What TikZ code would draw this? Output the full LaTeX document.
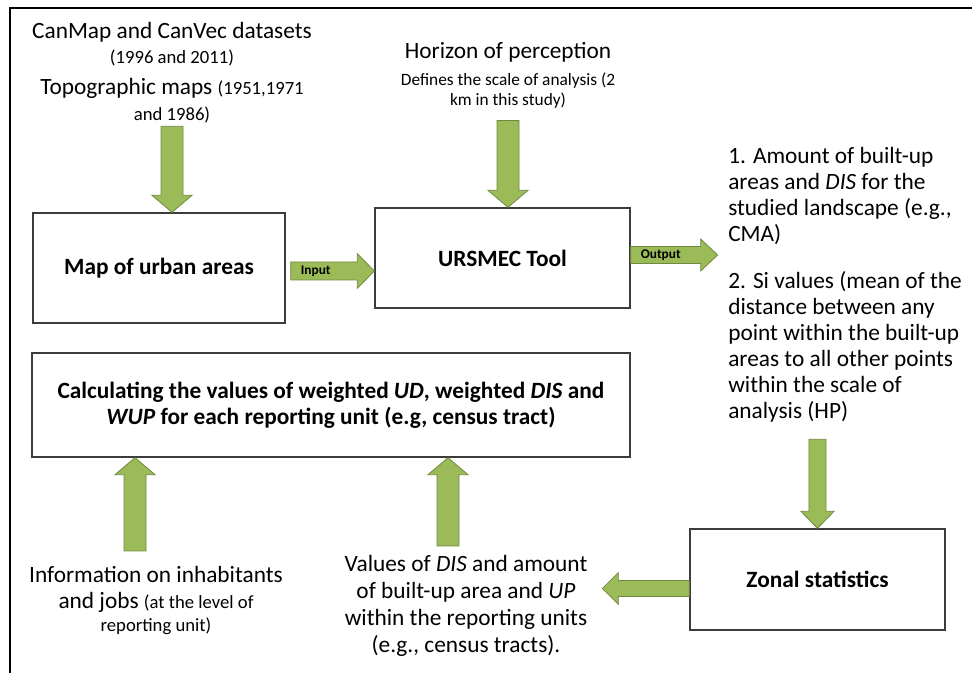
\documentclass[tikz,border=0pt]{standalone}
\usepackage{fontspec}
\setmainfont{Carlito}
\usetikzlibrary{calc,positioning}
\definecolor{ccvert}{RGB}{155,187,89}
\definecolor{ccvertfonce}{RGB}{113,137,63}
\definecolor{ccgris}{RGB}{60,60,60}

\newcommand{\grand}{\fontsize{17.5}{19.5}\selectfont}
\newcommand{\moyen}{\fontsize{13}{15}\selectfont}
\newcommand{\petit}{\fontsize{14}{16}\selectfont}

% fleche pleine : depart, arrivee, demi-corps, demi-tete, longueur tete
\newcommand{\flechebloc}[5]{%
  \coordinate (fb) at ($(#2)!#5!(#1)$);
  \filldraw[fleche] ($(#1)!#3!90:(#2)$) -- ($(fb)!#3!90:(#2)$) -- ($(fb)!#4!90:(#2)$)
    -- (#2) -- ($(fb)!#4!-90:(#2)$) -- ($(fb)!#3!-90:(#2)$) -- ($(#1)!#3!-90:(#2)$) -- cycle;}

\begin{document}
\begin{tikzpicture}[x=0.75pt, y=-0.75pt]

  % Styles
  \tikzstyle{boite} = [draw=ccgris, line width=1pt, fill=white, align=center, font=\grand\bfseries]
  \tikzstyle{texte} = [align=center, inner sep=0pt, font=\grand]
  \tikzstyle{fleche} = [fill=ccvert, draw=ccvertfonce, line width=0.6pt, line join=miter]
  \tikzstyle{etiq} = [inner sep=0pt, font=\fontsize{10}{12}\selectfont\bfseries]

  % Cadre
  \useasboundingbox (0,0) rectangle (972,673);
  \draw[line width=1.5pt] (10,673) -- (10,8) -- (972,8);

  % Boites
  \draw (159,268) node[boite, minimum width=189pt, minimum height=82.5pt] (map) {Map of urban areas};
  \draw (502.5,258) node[boite, minimum width=191.25pt, minimum height=75pt] (tool) {URSMEC Tool};
  \draw (331,405) node[boite, minimum width=448.5pt, minimum height=78pt] (calc) {Calculating the values of weighted \textit{UD}, weighted \textit{DIS} and\\ \textit{WUP} for each reporting unit (e.g, census tract)};
  \draw (817.5,579.5) node[boite, minimum width=191.25pt, minimum height=75.75pt] (zonal) {Zonal statistics};

  % Textes
  \draw (172,22) node[texte, anchor=north] (donnees) {CanMap and CanVec datasets\\[-0.75pt] {\petit (1996 and 2011)}\\[3.75pt] Topographic maps {\petit (1951,1971}\\ {\petit and 1986)}};
  \draw (508,42) node[texte, anchor=north] (horizon) {Horizon of perception\\[0.75pt] {\moyen Defines the scale of analysis (2}\\[-4.5pt] {\moyen km in this study)}};
  \draw (728,147) node[texte, anchor=north west, align=left] (resultats) {1. Amount of built-up\\ areas and \textit{DIS} for the\\ studied landscape (e.g.,\\ CMA)\\[15.75pt] 2. Si values (mean of the\\ distance between any\\ point within the built-up\\ areas to all other points\\ within the scale of\\ analysis (HP)};
  \draw (156,566) node[texte, anchor=north] (info) {Information on inhabitants\\ and jobs {\petit (at the level of}\\[-2pt] {\petit reporting unit)}};
  \draw (466,555) node[texte, anchor=north] (valeurs) {Values of \textit{DIS} and amount\\[0.75pt] of built-up area and \textit{UP}\\[0.75pt] within the reporting units\\[0.75pt] (e.g., census tracts).};

  % Points d'ancrage des fleches
  \coordinate (d1) at ($(donnees.south)+(0,3)$);
  \coordinate (h1) at ($(horizon.south)+(0,12)$);
  \coordinate (in0) at ($(map.east)+(5,3)$);
  \coordinate (out0) at ($(tool.east)+(0,-3)$);
  \coordinate (out1) at ($(out0)+(87,0)$);
  \coordinate (z1) at ($(zonal.north)+(0,-89)$);
  \coordinate (z0) at ($(zonal.west)+(0,9)$);
  \coordinate (z2) at ($(z0)+(-87,0)$);
  \coordinate (u1) at ($(info.north)+(-21,-15)$);
  \coordinate (u2) at ($(valeurs.north)+(-18,-9)$);

  % Fleches
  \flechebloc{d1}{d1 |- map.north}{8.25pt}{15pt}{12.75pt}
  \flechebloc{h1}{h1 |- tool.north}{8.25pt}{15pt}{12.75pt}
  \flechebloc{in0}{in0 -| tool.west}{6.75pt}{13pt}{12.75pt}
  \flechebloc{out0}{out1}{6.4pt}{12pt}{12.75pt}
  \flechebloc{z1}{z1 |- zonal.north}{6.4pt}{12.4pt}{12.75pt}
  \flechebloc{z0}{z2}{6pt}{12pt}{12pt}
  \flechebloc{u1}{u1 |- calc.south}{8.25pt}{15pt}{12.75pt}
  \flechebloc{u2}{u2 |- calc.south}{8.25pt}{15pt}{12.75pt}

  % Etiquettes
  \draw ($(in0)+(10,0)$) node[etiq, anchor=west] (entree) {Input};
  \draw ($(out0)+(10,0)$) node[etiq, anchor=west] (sortie) {Output};

\end{tikzpicture}
\end{document}
